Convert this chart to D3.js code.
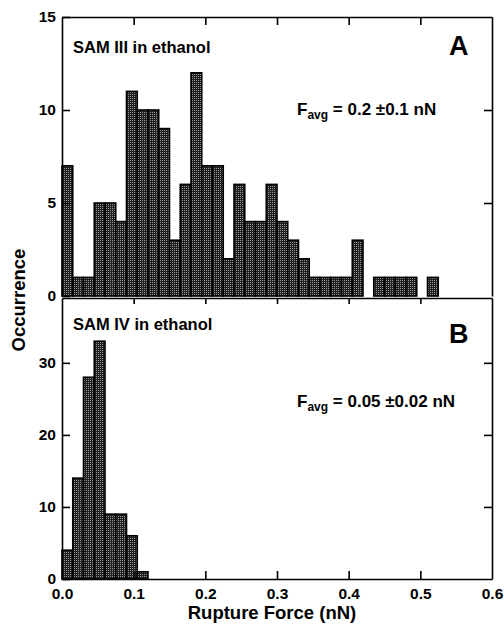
<!DOCTYPE html>
<html>
<head>
<meta charset="utf-8">
<script src="https://cdn.jsdelivr.net/npm/d3@7"></script>
<style>
  body { margin: 0; background: #fff; }
  svg { display: block; font-family: "Liberation Sans", Arial, Helvetica, sans-serif; font-weight: bold; }
</style>
</head>
<body>
<svg width="504" height="625"></svg>
<script>
// histogram bins: 0.015 nN wide, starting at 0
const binWidth = 0.015;
const samIIICounts = [7, 1, 1, 5, 5, 4, 11, 10, 10, 9, 3, 6, 12, 7, 7, 2, 6, 4, 4, 6, 4, 3, 2, 1, 1, 1, 1, 3, 0, 1, 1, 1, 1, 0, 1];
const samIVCounts = [4, 14, 28, 33, 9, 9, 6, 1];

const xTicks = [0, 0.1, 0.2, 0.3, 0.4, 0.5, 0.6];
const innerXTicks = [0.1, 0.2, 0.3, 0.4, 0.5];
const yTicksA = [0, 5, 10, 15];
const yTicksB = [0, 10, 20, 30];

const panelA = {label: 'SAM III in ethanol', letter: 'A', favg: ['0.2', '0.1'], counts: samIIICounts};
const panelB = {label: 'SAM IV in ethanol', letter: 'B', favg: ['0.05', '0.02'], counts: samIVCounts};

const svg = d3.select('svg');
const left = 62, right = 492;

// stipple fill like the scanned bars
const pat = svg.append('defs').append('pattern')
    .attr('id', 'stipple')
    .attr('width', 2).attr('height', 2)
    .attr('patternUnits', 'userSpaceOnUse');
pat.append('rect').attr('width', 2).attr('height', 2).attr('fill', '#1e1e1e');
pat.append('rect').attr('width', 1).attr('height', 1).attr('fill', '#9a9a9a');

const xscale = d3.scaleLinear().domain([0, 0.6]).range([left, right]);
const yA = d3.scaleLinear().domain([0, 15]).range([296, 17]);
const yB = d3.scaleLinear().domain([0, 39]).range([579, 298]);

const drawBars = (panel, yscale) => {
    const bins = panel.counts
        .map((c, i) => ({x0: i * binWidth, x1: (i + 1) * binWidth, count: c}))
        .filter(d => d.count > 0);
    svg.append('g').selectAll('rect').data(bins)
        .enter()
        .append('rect')
            .attr('x', d => xscale(d.x0))
            .attr('width', d => xscale(d.x1) - xscale(d.x0))
            .attr('y', d => yscale(d.count))
            .attr('height', d => yscale(0) - yscale(d.count))
            .attr('fill', 'url(#stipple)')
            .attr('stroke', '#000')
            .attr('stroke-width', 1.6);
};

drawBars(panelA, yA);
drawBars(panelB, yB);

const styleAxis = g => {
    g.selectAll('path, line').attr('stroke', '#000').attr('stroke-width', 1.6);
    g.selectAll('text').attr('fill', '#000').attr('font-size', 15.5).attr('font-family', null);
    g.attr('font-family', null);
};

// panel A frame
svg.append('g').attr('transform', `translate(${left},0)`)
    .call(d3.axisLeft(yA).tickValues(yTicksA).tickSize(-8).tickSizeOuter(0).tickPadding(6))
    .call(styleAxis);
svg.append('g').attr('transform', `translate(${right},0)`)
    .call(d3.axisRight(yA).tickValues([5, 10]).tickSize(-8).tickSizeOuter(0).tickFormat(''))
    .call(styleAxis);
svg.append('g').attr('transform', `translate(0,${yA(15)})`)
    .call(d3.axisTop(xscale).tickValues(innerXTicks).tickSize(-8).tickSizeOuter(0).tickFormat(''))
    .call(styleAxis);

// panel B frame
svg.append('g').attr('transform', `translate(${left},0)`)
    .call(d3.axisLeft(yB).tickValues(yTicksB).tickSize(-8).tickSizeOuter(0).tickPadding(6))
    .call(styleAxis);
svg.append('g').attr('transform', `translate(${right},0)`)
    .call(d3.axisRight(yB).tickValues([10, 20, 30]).tickSize(-8).tickSizeOuter(0).tickFormat(''))
    .call(styleAxis);
svg.append('g').attr('transform', `translate(0,${yB.range()[1]})`)
    .call(d3.axisTop(xscale).tickValues(innerXTicks).tickSize(-6).tickSizeOuter(0).tickFormat(''))
    .call(styleAxis);
const xAxisG = svg.append('g').attr('transform', `translate(0,${yB(0)})`)
    .call(d3.axisBottom(xscale).tickValues(xTicks).tickSize(-8).tickSizeOuter(0).tickPadding(9)
        .tickFormat(d3.format('.1f')))
    .call(styleAxis);
xAxisG.selectAll('.tick').filter(d => d === 0 || d === 0.6).select('line').remove();

// labels inside panels
const annotate = (panel, yscale, labelY, letterY, favgY) => {
    svg.append('text')
        .attr('x', 73).attr('y', labelY)
        .attr('font-size', 16.5)
        .text(panel.label);
    svg.append('text')
        .attr('x', 449).attr('y', letterY)
        .attr('font-size', 27)
        .text(panel.letter);
    const t = svg.append('text')
        .attr('x', 297).attr('y', favgY)
        .attr('font-size', 17);
    t.append('tspan').text('F');
    t.append('tspan').attr('font-size', 12).attr('dy', 4).text('avg');
    t.append('tspan').attr('dy', -4).text(` = ${panel.favg[0]} \u00b1${panel.favg[1]} nN`);
};
annotate(panelA, yA, 53, 55, 115);
annotate(panelB, yB, 330, 343, 407);

// axis titles
svg.append('text')
    .attr('transform', 'translate(25,300) rotate(-90)')
    .attr('text-anchor', 'middle')
    .attr('font-size', 18.5)
    .text('Occurrence');
svg.append('text')
    .attr('x', 272).attr('y', 619)
    .attr('text-anchor', 'middle')
    .attr('font-size', 18.5)
    .text('Rupture Force (nN)');
</script>
</body>
</html>
